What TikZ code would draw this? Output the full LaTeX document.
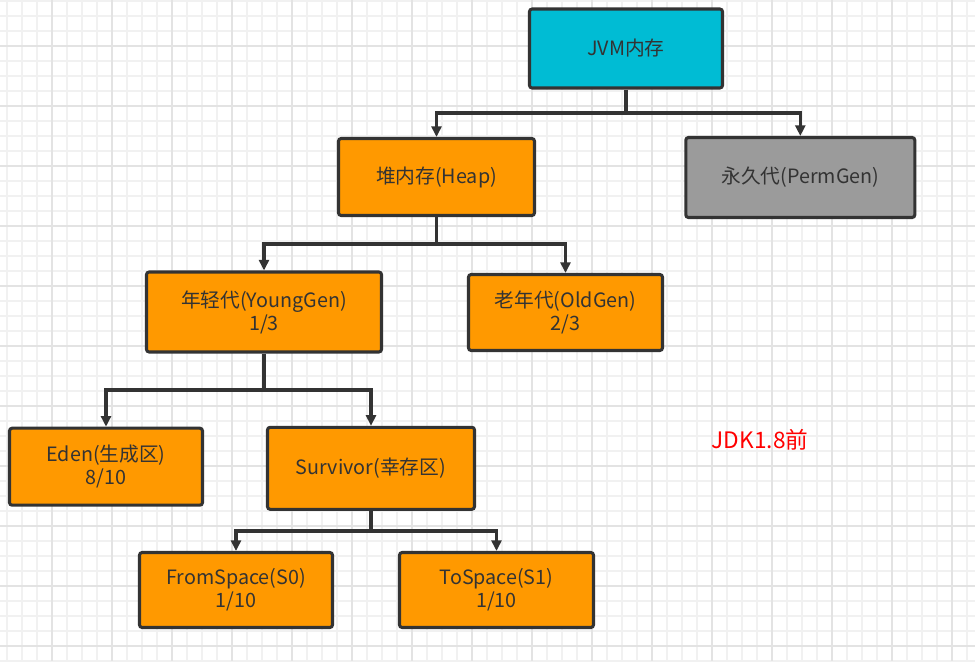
\documentclass[tikz,border=0pt]{standalone}
\usepackage{fontspec}
\setmainfont{Noto Sans CJK SC}
\usetikzlibrary{arrows.meta}
\definecolor{boxline}{HTML}{333333}
\definecolor{txt}{HTML}{333333}
\definecolor{jvmcyan}{HTML}{00BCD4}
\definecolor{genorange}{HTML}{FF9900}
\definecolor{permgray}{HTML}{9B9B9B}
\definecolor{gridminor}{HTML}{F1F1F1}
\definecolor{gridmajor}{HTML}{E3E3E3}

\begin{document}
\begin{tikzpicture}[x=0.75pt,y=-0.75pt,
	box/.style={draw=boxline, line width=2.3pt, rounded corners=2pt, align=center, text=txt,
		inner sep=0pt, font=\fontsize{14.8}{17.25}\selectfont},
	link/.style={draw=boxline, line width=2.4pt, -{Triangle[length=8pt,width=7.5pt]}},
	bar/.style={draw=boxline, line width=2.4pt}]
		\fill[white] (0,0) rectangle (975,661);
		\useasboundingbox (0,0) rectangle (975,661);

		% background grid
		\foreach \gx in {0,...,64} \draw[gridminor, line width=1.2pt] (6.7+15*\gx,0) -- (6.7+15*\gx,661);
		\foreach \gy in {0,...,44} \draw[gridminor, line width=1.2pt] (0,0.7+15*\gy) -- (975,0.7+15*\gy);
		\foreach \gx in {0,...,15} \draw[gridmajor, line width=1.2pt] (51.7+60*\gx,0) -- (51.7+60*\gx,661);
		\foreach \gy in {0,...,10} \draw[gridmajor, line width=1.2pt] (0,45.7+60*\gy) -- (975,45.7+60*\gy);

		\node[box, fill=jvmcyan, minimum width=193*0.75pt, minimum height=79*0.75pt] (jvm) at (626,48.5) {JVM内存};
		\node[box, fill=genorange, minimum width=196*0.75pt, minimum height=77*0.75pt] (heap) at (436.5,177) {堆内存(Heap)};
		\node[box, fill=permgray, minimum width=229*0.75pt, minimum height=80*0.75pt] (perm) at (800.3,177.5) {永久代(PermGen)};
		\node[box, fill=genorange, minimum width=235*0.75pt, minimum height=80*0.75pt] (young) at (264,312) {年轻代(YoungGen)\\1/3};
		\node[box, fill=genorange, minimum width=194*0.75pt, minimum height=76*0.75pt] (old) at (565.5,312.5) {老年代(OldGen)\\2/3};
		\node[box, fill=genorange, minimum width=193*0.75pt, minimum height=77*0.75pt] (eden) at (106,466.7) {Eden(生成区)\\8/10};
		\node[box, fill=genorange, minimum width=207*0.75pt, minimum height=82*0.75pt] (surv) at (371,468.3) {Survivor(幸存区)};
		\node[box, fill=genorange, minimum width=193*0.75pt, minimum height=75*0.75pt] (from) at (236,590) {FromSpace(S0)\\1/10};
		\node[box, fill=genorange, minimum width=194*0.75pt, minimum height=75*0.75pt] (to) at (496.5,590) {ToSpace(S1)\\1/10};

		\node[text=red, font=\fontsize{17}{20}\selectfont] (jdk) at (760,440) {JDK1.8前};

		\coordinate (jvmjoin) at (626,113);
		\coordinate (heapjoin) at (436.5,244);
		\coordinate (youngjoin) at (264,390);
		\coordinate (survjoin) at (371,531);

		\draw[bar] (jvm.south) -- (jvmjoin);
		\draw[link] (jvmjoin) -| (heap.north);
		\draw[link] (jvmjoin) -| (perm.north);

		\draw[bar] (heap.south) -- (heapjoin);
		\draw[link] (heapjoin) -| (young.north);
		\draw[link] (heapjoin) -| (old.north);

		\draw[bar] (young.south) -- (youngjoin);
		\draw[link] (youngjoin) -| (eden.north);
		\draw[link] (youngjoin) -| (surv.north);

		\draw[bar] (surv.south) -- (survjoin);
		\draw[link] (survjoin) -| (from.north);
		\draw[link] (survjoin) -| (to.north);
	\end{tikzpicture}
\end{document}
